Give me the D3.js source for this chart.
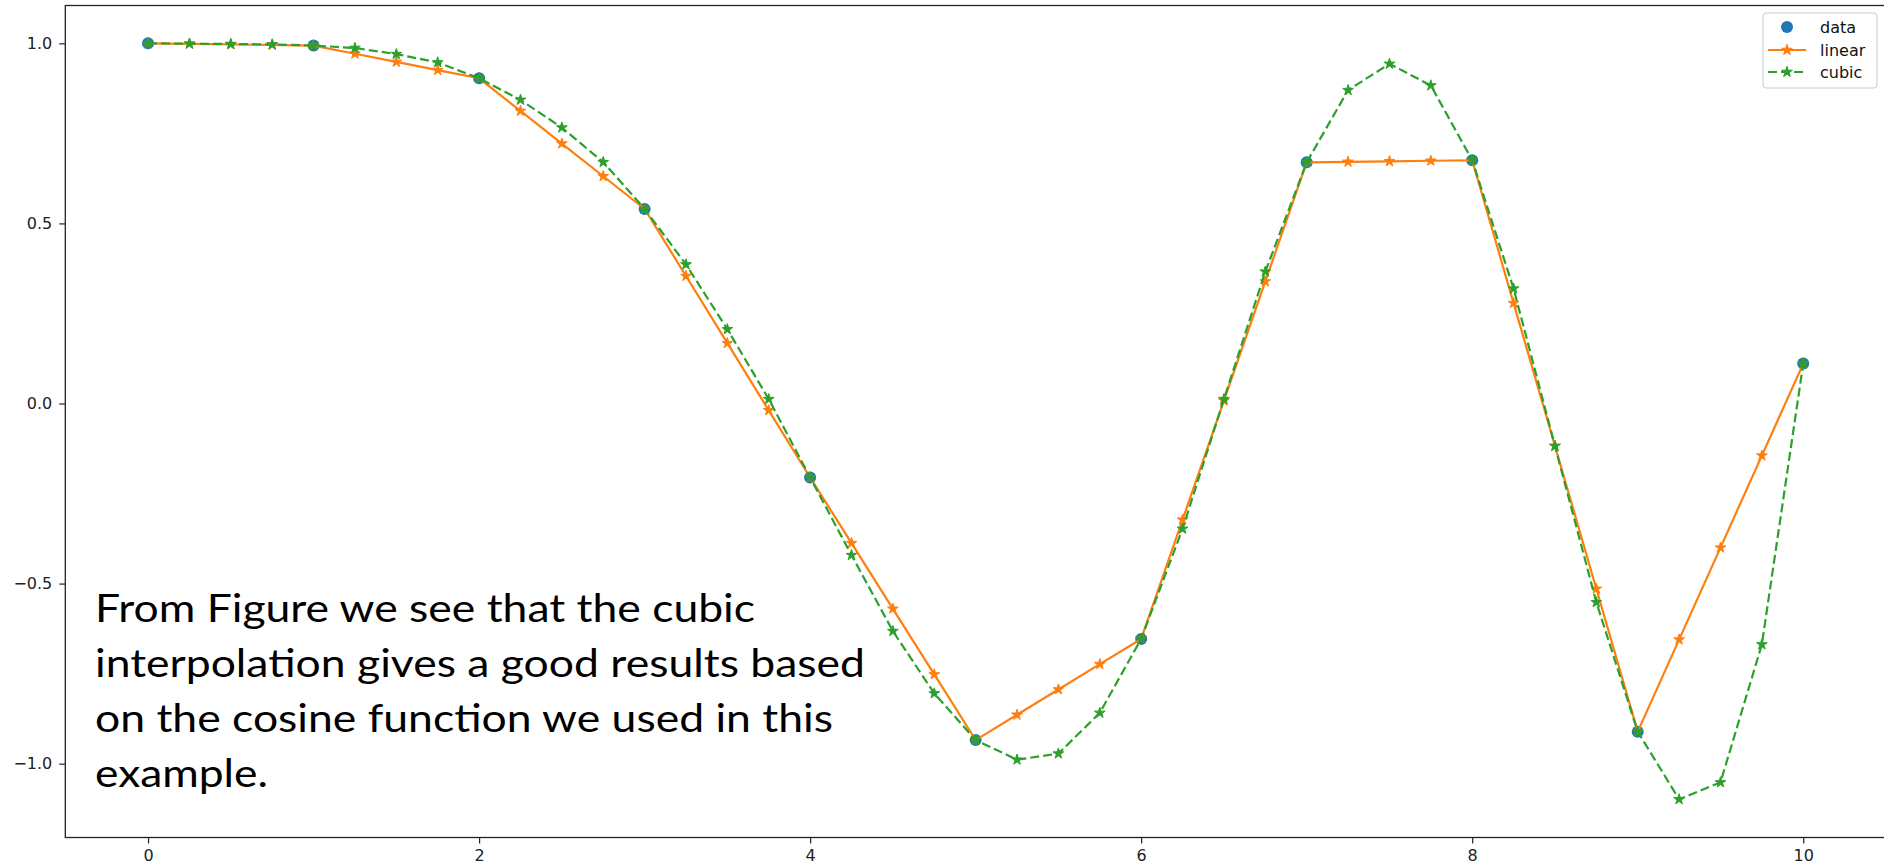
<!DOCTYPE html>
<html>
<head>
<meta charset="utf-8">
<script src="https://cdn.jsdelivr.net/npm/d3@7"></script>
<style>
  body { margin: 0; background: #fff; }
  .tick text { font-family: "DejaVu Sans", sans-serif; font-size: 16px; fill: #222; }
  .tick line { stroke: #222; stroke-width: 1.2; }
</style>
</head>
<body>
<div id="myChart"></div>
<script>
// measured points
let dataX = [0, 1, 2, 3, 4, 5, 6, 7, 8, 9, 10];
let dataY = [1.0, 0.9938, 0.9029, 0.5403, -0.2054, -0.9345, -0.6536, 0.6696, 0.6753, -0.9111, 0.1108];

// dense grid, step 0.25
let newX = [0, 0.25, 0.5, 0.75, 1, 1.25, 1.5, 1.75, 2, 2.25, 2.5, 2.75, 3, 3.25, 3.5, 3.75,
    4, 4.25, 4.5, 4.75, 5, 5.25, 5.5, 5.75, 6, 6.25, 6.5, 6.75, 7, 7.25, 7.5, 7.75,
    8, 8.25, 8.5, 8.75, 9, 9.25, 9.5, 9.75, 10];

let linearY = [1.0, 0.9985, 0.9969, 0.9954, 0.9938, 0.9711, 0.9484, 0.9256, 0.9029, 0.8122, 0.7216, 0.6309,
    0.5403, 0.3539, 0.1674, -0.0190, -0.2054, -0.3877, -0.5700, -0.7522, -0.9345, -0.8643, -0.7940, -0.7238,
    -0.6536, -0.3228, 0.0080, 0.3388, 0.6696, 0.6710, 0.6724, 0.6739, 0.6753, 0.2787, -0.1179, -0.5145,
    -0.9111, -0.6556, -0.4002, -0.1447, 0.1108];

let cubicY = [1.0, 0.999, 0.998, 0.997, 0.9938, 0.987, 0.970, 0.947, 0.9029, 0.843, 0.766, 0.670,
    0.5403, 0.386, 0.206, 0.012, -0.2054, -0.421, -0.632, -0.805, -0.9345, -0.989, -0.972, -0.859,
    -0.6536, -0.348, 0.012, 0.366, 0.6696, 0.870, 0.943, 0.883, 0.6753, 0.319, -0.118, -0.552,
    -0.9111, -1.099, -1.052, -0.669, 0.1108];

let xTicks = [0, 2, 4, 6, 8, 10];
let yTicks = [-1.0, -0.5, 0.0, 0.5, 1.0];
let legendLabels = ["data", "linear", "cubic"];
let noteLines = [
    "From Figure we see that the cubic",
    "interpolation gives a good results based",
    "on the cosine function we used in this",
    "example."
];

let width = 1884, height = 865;
let blue = "#1f77b4", orange = "#ff7f0e", green = "#2ca02c";

let x = d3.scaleLinear().domain([-0.5, 10.5]).range([65.3, 1886]);
let y = d3.scaleLinear().domain([-1.205, 1.105]).range([837.5, 5.5]);

let svg = d3.select("#myChart").append("svg")
    .attr("width", width)
    .attr("height", height);

// axes
svg.append("g")
    .attr("transform", "translate(0," + y.range()[0] + ")")
    .call(d3.axisBottom(x).tickValues(xTicks).tickFormat(d3.format("d")).tickSize(6).tickPadding(6))
    .call(g => g.select(".domain").remove());

svg.append("g")
    .attr("transform", "translate(" + x.range()[0] + ",0)")
    .call(d3.axisLeft(y).tickValues(yTicks).tickFormat(d3.format(".1f")).tickSize(6).tickPadding(7))
    .call(g => g.select(".domain").remove());

// frame
svg.append("rect")
    .attr("x", x.range()[0])
    .attr("y", y.range()[1])
    .attr("width", x.range()[1] - x.range()[0])
    .attr("height", y.range()[0] - y.range()[1])
    .attr("fill", "none")
    .attr("stroke", "#222")
    .attr("stroke-width", 1.3);

let star = d3.symbol().type(d3.symbolStar).size(36);

// data points
svg.selectAll(".dot")
    .data(dataX)
    .enter()
    .append("circle")
    .attr("class", "dot")
    .attr("cx", d => x(d))
    .attr("cy", (d, i) => y(dataY[i]))
    .attr("r", 6)
    .attr("fill", blue);

// linear
let lineFn = (vals) => d3.line().x((d, i) => x(newX[i])).y(d => y(d))(vals);

svg.append("path")
    .attr("d", lineFn(linearY))
    .attr("fill", "none")
    .attr("stroke", orange)
    .attr("stroke-width", 2.2);

svg.selectAll(".lin")
    .data(linearY)
    .enter()
    .append("path")
    .attr("class", "lin")
    .attr("d", star)
    .attr("transform", (d, i) => "translate(" + x(newX[i]) + "," + y(d) + ")")
    .attr("fill", orange)
    .attr("stroke", orange)
    .attr("stroke-width", 1);

// cubic
svg.append("path")
    .attr("d", lineFn(cubicY))
    .attr("fill", "none")
    .attr("stroke", green)
    .attr("stroke-width", 2.2)
    .attr("stroke-dasharray", "9,4");

svg.selectAll(".cub")
    .data(cubicY)
    .enter()
    .append("path")
    .attr("class", "cub")
    .attr("d", star)
    .attr("transform", (d, i) => "translate(" + x(newX[i]) + "," + y(d) + ")")
    .attr("fill", green)
    .attr("stroke", green)
    .attr("stroke-width", 1);

// legend
let lg = svg.append("g").attr("transform", "translate(1763,13)");
lg.append("rect")
    .attr("width", 114)
    .attr("height", 75)
    .attr("rx", 3)
    .attr("fill", "#fff")
    .attr("fill-opacity", 0.8)
    .attr("stroke", "#ccc");

let rowY = [14, 37, 59];
lg.append("circle").attr("cx", 24).attr("cy", rowY[0]).attr("r", 6).attr("fill", blue);
lg.append("line").attr("x1", 5).attr("x2", 43).attr("y1", rowY[1]).attr("y2", rowY[1])
    .attr("stroke", orange).attr("stroke-width", 2.2);
lg.append("path").attr("d", star).attr("transform", "translate(24," + rowY[1] + ")")
    .attr("fill", orange).attr("stroke", orange);
lg.append("line").attr("x1", 5).attr("x2", 43).attr("y1", rowY[2]).attr("y2", rowY[2])
    .attr("stroke", green).attr("stroke-width", 2.2).attr("stroke-dasharray", "9,4");
lg.append("path").attr("d", star).attr("transform", "translate(24," + rowY[2] + ")")
    .attr("fill", green).attr("stroke", green);

lg.selectAll(".lbl")
    .data(legendLabels)
    .enter()
    .append("text")
    .attr("x", 57)
    .attr("y", (d, i) => rowY[i])
    .attr("dy", "0.35em")
    .style("font-family", "DejaVu Sans, sans-serif")
    .style("font-size", "16px")
    .style("fill", "#111")
    .text(d => d);

// overlay note
let noteWidths = [660, 770, 738, 173];
svg.selectAll(".note")
    .data(noteLines)
    .enter()
    .append("text")
    .attr("class", "note")
    .attr("x", 95)
    .attr("y", (d, i) => 622 + i * 55)
    .attr("textLength", (d, i) => noteWidths[i])
    .attr("lengthAdjust", "spacingAndGlyphs")
    .style("font-family", "Lato, 'Open Sans', sans-serif")
    .style("font-size", "39px")
    .style("fill", "#000")
    .text(d => d);
</script>
</body>
</html>
